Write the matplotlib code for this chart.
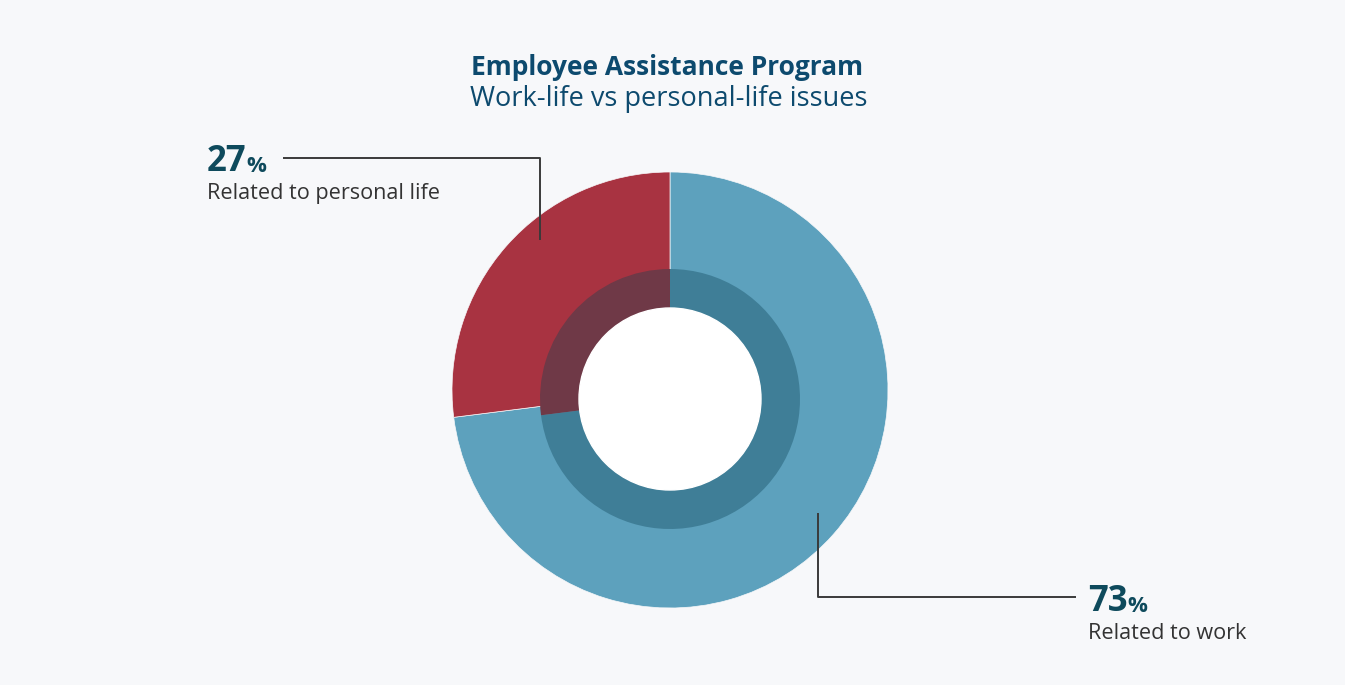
import matplotlib
matplotlib.use("Agg")
import matplotlib.pyplot as plt

categories = ["Related to work", "Related to personal life"]
values = [73, 27]
pct_labels = ["73", "27"]
title_line1 = "Employee Assistance Program"
title_line2 = "Work-life vs personal-life issues"

outer_colors = ["#5DA1BD", "#A83341"]
inner_colors = ["#3F7E97", "#6F3947"]
bg = "#F7F8FA"
FONT = ["Open Sans", "DejaVu Sans"]

W, H = 1345, 685
fig = plt.figure(figsize=(W / 100, H / 100), dpi=100, facecolor=bg)
ax = fig.add_axes([0, 0, 1, 1])
ax.set_facecolor(bg)

def Y(y):
    return H - y

# outer ring
ax.pie(values, colors=outer_colors, startangle=90, counterclock=False,
       radius=218, center=(670, Y(390)),
       wedgeprops=dict(linewidth=0.5, edgecolor="#F7F8FA"), frame=True)
# inner darker ring
ax.pie(values, colors=inner_colors, startangle=90, counterclock=False,
       radius=130, center=(670, Y(399)),
       wedgeprops=dict(width=39, linewidth=0), frame=True)
# white hole
ax.add_patch(plt.Circle((670, Y(399)), 91, color="white", zorder=5))
ax.set_xlim(0, W)
ax.set_ylim(0, H)
ax.set_aspect("equal")
ax.axis("off")

# title
title_color = "#0D4A6E"
ax.text(667, Y(75), title_line1, ha="center", va="baseline", fontsize=19,
        fontweight="bold", color=title_color, family=FONT)
ax.text(669, Y(106), title_line2, ha="center", va="baseline", fontsize=19.5,
        color=title_color, family=FONT)

# leader lines
lc = "#3a3a3a"
ax.plot([283, 540, 540], [Y(158), Y(158), Y(240)], color=lc, lw=1.4, solid_capstyle="butt")
ax.plot([818, 818, 1076], [Y(513), Y(597), Y(597)], color=lc, lw=1.4, solid_capstyle="butt")

num_color = "#0E4A5C"
lab_color = "#333333"

def label(x, ybase, pct, text):
    t = ax.text(x, Y(ybase), pct, ha="left", va="baseline", fontsize=25,
                fontweight="bold", color=num_color, family=FONT)
    ax.annotate("%", xy=(1, 0), xycoords=t, xytext=(0, 2.5), textcoords="offset points",
                ha="left", va="bottom", fontsize=16, fontweight="bold",
                color=num_color, family=FONT)
    ax.text(x, Y(ybase + 28), text, ha="left", va="baseline", fontsize=15.6,
            color=lab_color, family=FONT)

label(207, 171, pct_labels[1], categories[1])
label(1088, 611, pct_labels[0], categories[0])

fig.savefig("out.png", dpi=100, facecolor=bg)
